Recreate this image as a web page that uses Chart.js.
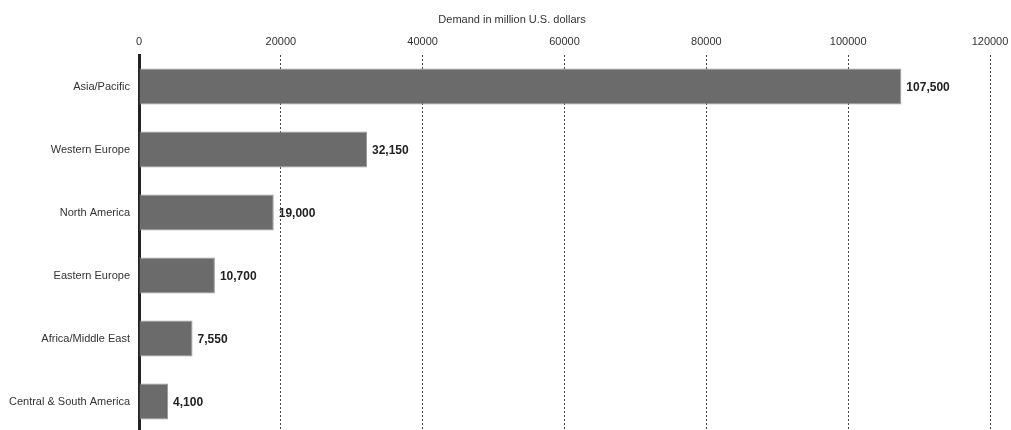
<!DOCTYPE html>
<html>
<head>
<meta charset="utf-8">
<script src="https://cdn.jsdelivr.net/npm/chart.js@4"></script>
<style>
  html, body { margin: 0; padding: 0; background: #fff; overflow: hidden; }
</style>
</head>
<body>
<canvas id="myChart" width="1011" height="433"></canvas>
<script>
// regiones y demanda (millones de USD)
const regiones = ['Asia/Pacific', 'Western Europe', 'North America', 'Eastern Europe', 'Africa/Middle East', 'Central & South America'];
const demanda = [107500, 32150, 19000, 10700, 7550, 4100];
const etiquetasValor = ['107,500', '32,150', '19,000', '10,700', '7,550', '4,100'];
const tituloEje = 'Demand in million U.S. dollars';

const fuente = '"Liberation Sans", Arial, sans-serif';

// dibuja el valor al final de cada barra y el titulo del eje
const etiquetasPlugin = {
    id: 'etiquetas',
    afterDatasetsDraw(chart) {
        const ctx = chart.ctx;
        const meta = chart.getDatasetMeta(0);
        ctx.save();
        ctx.font = 'bold 12px ' + fuente;
        ctx.fillStyle = '#222';
        ctx.textAlign = 'left';
        ctx.textBaseline = 'middle';
        meta.data.forEach(function (bar, i) {
            ctx.fillText(etiquetasValor[i], bar.x + 5, bar.y + 1);
        });
        ctx.font = '11px ' + fuente;
        ctx.fillStyle = '#333';
        ctx.textAlign = 'center';
        ctx.fillText(tituloEje, 512, 20);
        ctx.restore();
    }
};

const ctx = document.getElementById('myChart').getContext('2d');
const chart = new Chart(ctx, {
    type: 'bar',
    data: {
        labels: regiones,
        datasets: [{
            data: demanda,
            backgroundColor: '#6b6b6b',
            borderColor: '#9a9a9a',
            borderWidth: 1,
            barPercentage: 0.57,
            categoryPercentage: 1
        }]
    },
    options: {
        indexAxis: 'y',
        responsive: false,
        animation: false,
        layout: { padding: { top: 0, right: 21, bottom: 0, left: 0 } },
        plugins: {
            legend: { display: false },
            tooltip: { enabled: false }
        },
        scales: {
            x: {
                position: 'top',
                min: 0,
                max: 120000,
                afterFit: function (scale) {
                    scale.height = 55;
                    scale.paddingLeft = 0;
                    scale.paddingRight = 0;
                },
                ticks: {
                    stepSize: 20000,
                    padding: 6,
                    color: '#333',
                    font: { family: fuente, size: 11 },
                    callback: function (v) { return String(v); }
                },
                grid: {
                    drawTicks: false,
                    color: function (c) { return c.tick && c.tick.value === 0 ? 'rgba(0,0,0,0)' : '#444'; },
                    lineWidth: 1
                },
                border: { display: false, dash: [2, 2] }
            },
            y: {
                afterFit: function (scale) {
                    scale.width = 139;
                    scale.paddingTop = 0;
                    scale.paddingBottom = 0;
                },
                ticks: {
                    padding: 9,
                    color: '#333',
                    font: { family: fuente, size: 11 }
                },
                grid: { display: false, drawTicks: false },
                border: { display: true, color: '#222', width: 3 }
            }
        }
    },
    plugins: [etiquetasPlugin]
});
</script>
</body>
</html>
